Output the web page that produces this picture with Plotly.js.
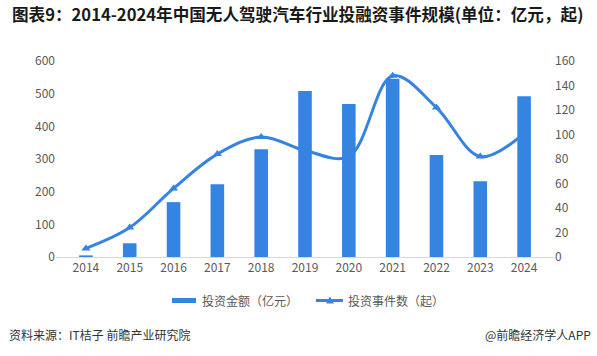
<!DOCTYPE html>
<html>
<head>
<meta charset="utf-8">
<script src="https://cdn.plot.ly/plotly-3.0.1.min.js"></script>
<style>
html,body{margin:0;padding:0;background:#fff;}
#chart{width:597px;height:356px;}
</style>
</head>
<body>
<div id="chart"></div>
<script>
const years = ['2014','2015','2016','2017','2018','2019','2020','2021','2022','2023','2024'];
const amount = [5, 42, 168, 223, 330, 508, 468, 546, 312, 232, 492];
const events = [7, 24, 56, 84, 98, 87, 82, 148, 122, 82, 101];
const barName = '投资金额（亿元）';
const lineName = '投资事件数（起）';

const blue = '#3684e2';
const font = '"Noto Sans CJK SC", "Noto Sans", sans-serif';

// plot-area pixel helpers for legend/footer placement
const L = 56, R = 554, T = 61, B = 257;
const px = v => (v - L) / (R - L);
const py = v => (B - v) / (B - T);

const data = [
  {
    type: 'bar', x: years, y: amount, name: barName,
    marker: {color: blue}, width: 0.31, yaxis: 'y', showlegend: false
  },
  {
    type: 'scatter', mode: 'lines+markers', x: years, y: events, name: lineName,
    line: {color: blue, width: 3, shape: 'spline', smoothing: 1},
    marker: {symbol: 'triangle-up', size: 8, color: blue},
    yaxis: 'y2', showlegend: false
  }
];

const ly = 300.5;
const layout = {
  width: 597, height: 356,
  margin: {l: L, r: 597 - R, t: T, b: 356 - B},
  paper_bgcolor: '#fff', plot_bgcolor: '#fff',
  font: {family: font, size: 12, color: '#595959'},
  title: {
    text: '<b>图表9：2014-2024年中国无人驾驶汽车行业投融资事件规模(单位：亿元，起)</b>',
    x: 12/597, xanchor: 'left', y: 1 - 15/356, yanchor: 'middle',
    font: {family: font, size: 16.6, color: '#1a1a1a'}
  },
  xaxis: {
    type: 'category', showgrid: false, zeroline: false,
    showline: true, linecolor: '#d9d9d9', linewidth: 1,
    ticks: '', tickfont: {size: 12, color: '#595959'}
  },
  yaxis: {
    range: [0, 600], dtick: 100, showgrid: false, zeroline: false,
    showline: false, ticks: '', tickfont: {size: 12, color: '#595959'}
  },
  yaxis2: {
    range: [0, 160], dtick: 20, overlaying: 'y', side: 'right',
    showgrid: false, zeroline: false, showline: false, ticks: '',
    tickfont: {size: 12, color: '#595959'}
  },
  showlegend: false,
  shapes: [
    {type: 'rect', xref: 'paper', yref: 'paper',
     x0: px(172), x1: px(196), y0: py(303), y1: py(298),
     fillcolor: blue, line: {width: 0}},
    {type: 'line', xref: 'paper', yref: 'paper',
     x0: px(316), x1: px(343), y0: py(ly), y1: py(ly),
     line: {color: blue, width: 3}},
    {type: 'path', xref: 'paper', yref: 'paper',
     path: `M ${px(326)},${py(303.5)} L ${px(334)},${py(303.5)} L ${px(330)},${py(296.5)} Z`,
     fillcolor: blue, line: {width: 0}}
  ],
  annotations: [
    {text: barName, xref: 'paper', yref: 'paper',
     x: px(200), xanchor: 'left', y: py(ly), yanchor: 'middle',
     showarrow: false, font: {size: 12, color: '#595959'}},
    {text: lineName, xref: 'paper', yref: 'paper',
     x: px(346), xanchor: 'left', y: py(ly), yanchor: 'middle',
     showarrow: false, font: {size: 12, color: '#595959'}},
    {text: '资料来源：IT桔子 前瞻产业研究院', xref: 'paper', yref: 'paper',
     x: px(7), xanchor: 'left', y: py(334), yanchor: 'middle',
     showarrow: false, font: {size: 12, color: '#333'}},
    {text: '@前瞻经济学人APP', xref: 'paper', yref: 'paper',
     x: px(593), xanchor: 'right', y: py(334), yanchor: 'middle',
     showarrow: false, font: {size: 12, color: '#333'}}
  ]
};

Plotly.newPlot('chart', data, layout, {staticPlot: true, displayModeBar: false});
</script>
</body>
</html>
